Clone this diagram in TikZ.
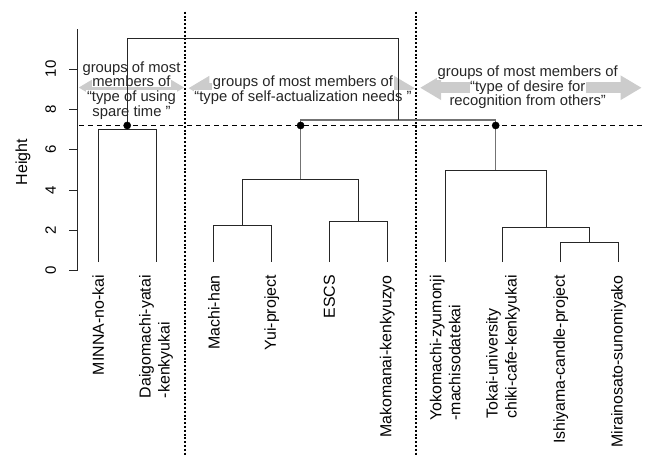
\documentclass[tikz,border=0pt]{standalone}
\usepackage{fontspec}
\setmainfont{Liberation Sans}
\usepackage{xcolor}
\usetikzlibrary{arrows.meta}

\begin{document}
\begin{tikzpicture}[x=57.8pt, y=20.17pt,
  branch/.style={line width=0.9pt, black!85},
  trunk/.style={line width=1.6pt, black!55},
  leaf/.style={rotate=90, anchor=east, align=left, inner sep=0pt, font=\fontsize{15.9}{19}\selectfont},
  ann/.style={anchor=base, fill=white, inner sep=0.6pt, text=black!85, font=\fontsize{14.8}{14.8}\selectfont},
  band/.style={line width=11pt, black!20, {Triangle[length=21pt,width=23pt]}-{Triangle[length=21pt,width=23pt]}},
  cutline/.style={line width=1pt, dash pattern=on 5pt off 4pt},
  splitline/.style={line width=2.1pt, dash pattern=on 2pt off 1.8pt},
  axisline/.style={line width=0.8pt, black!85}]
\useasboundingbox (-1.7007,-9.137) rectangle (9.562,13.421);

% draw some points
\node[coordinate] (L1) at (0,0.43) {};
\node[coordinate] (L2) at (1,0.43) {};
\node[coordinate] (L3) at (2,0.43) {};
\node[coordinate] (L4) at (3,0.43) {};
\node[coordinate] (L5) at (4,0.43) {};
\node[coordinate] (L6) at (5,0.43) {};
\node[coordinate] (L7) at (6,0.43) {};
\node[coordinate] (L8) at (7,0.43) {};
\node[coordinate] (L9) at (8,0.43) {};
\node[coordinate] (L10) at (9,0.43) {};

\node[coordinate] (m1) at (0.5,7.01) {};
\node[coordinate] (m2) at (2.5,2.23) {};
\node[coordinate] (m3) at (4.5,2.43) {};
\node[coordinate] (m4) at (3.5,4.53) {};
\node[coordinate] (m5) at (8.5,1.41) {};
\node[coordinate] (m6) at (7.75,2.13) {};
\node[coordinate] (m7) at (6.875,4.99) {};
\node[coordinate] (m8) at (5.1875,7.47) {};
\node[coordinate] (m9) at (2.84375,11.49) {};

\node[coordinate] (D1) at (0.5,7.2) {};
\node[coordinate] (D2) at (3.5,7.2) {};
\node[coordinate] (D3) at (6.875,7.2) {};
\node[coordinate] (cL) at (-0.334,7.2) {};
\node[coordinate] (cR) at (9.401,7.2) {};

\node[coordinate] (s1t) at (1.5,12.84) {};
\node[coordinate] (s1b) at (1.5,-9.137) {};
\node[coordinate] (s2t) at (5.5,12.84) {};
\node[coordinate] (s2b) at (5.5,-9.137) {};

\node[coordinate] (a1L) at (-0.344,9.08) {};
\node[coordinate] (a1R) at (1.49,9.08) {};
\node[coordinate] (a2L) at (1.557,9.05) {};
\node[coordinate] (a2R) at (5.479,9.05) {};
\node[coordinate] (a3L) at (5.566,9.07) {};
\node[coordinate] (a3R) at (9.401,9.07) {};

% draw the group arrows and their texts
\draw[band] (a1L) -- (a1R);
\draw[band] (a2L) -- (a2R);
\draw[band] (a3L) -- (a3R);

\node[ann] (g1a) at (0.574,9.836) {groups of most};
\node[ann] (g1b) at (0.574,9.123) {members of};
\node[ann] (g1c) at (0.574,8.379) {“type of using};
\node[ann] (g1d) at (0.574,7.635) {spare time ”};

\node[ann] (g2a) at (3.542,9.11) {groups of most members of};
\node[ann] (g2b) at (3.542,8.38) {“type of self-actualization needs ”};

\node[ann] (g3a) at (7.429,9.618) {groups of most members of};
\node[ann] (g3b) at (7.429,8.909) {“type of desire for};
\node[ann] (g3c) at (7.429,8.215) {recognition from others”};

% draw some lines
\draw[cutline] (cL) -- (cR);
\draw[splitline] (s1t) -- (s1b);
\draw[splitline] (s2t) -- (s2b);

\draw[branch] (L1) |- (m1) -| (L2);
\draw[branch] (L3) |- (m2) -| (L4);
\draw[branch] (L5) |- (m3) -| (L6);
\draw[branch] (m2) |- (m4) -| (m3);
\draw[branch] (L9) |- (m5) -| (L10);
\draw[branch] (L8) |- (m6) -| (m5);
\draw[branch] (L7) |- (m7) -| (m6);
\draw[trunk] (m4) |- (m8) -| (m7);
\draw[branch] (m1) |- (m9) -| (m8);

\draw[fill=black] (D1) circle (3.6pt);
\draw[fill=black] (D2) circle (3.6pt);
\draw[fill=black] (D3) circle (3.6pt);

% axis
\node[coordinate] (ax0) at (-0.356,0) {};
\node[coordinate] (ax1) at (-0.356,11.97) {};
\draw[axisline] (ax0) -- (ax1);
\foreach \h in {0,2,...,10} {
  \draw[axisline] (-0.356,\h) -- ++(-9pt,0);
  \node[rotate=90, font=\fontsize{15}{18}\selectfont] (tick\h) at (-0.823,\h) {\h};
}
\node[rotate=90, font=\fontsize{16}{19}\selectfont] (ylab) at (-1.303,5.39) {Height};

% leaf labels
\node[leaf] (n1) at (0,-0.213) {MINNA-no-kai};
\node[leaf] (n2) at (1,-0.213) {Daigomachi-yatai\\-kenkyukai};
\node[leaf] (n3) at (2,-0.213) {Machi-han};
\node[leaf] (n4) at (3,-0.213) {Yui-project};
\node[leaf] (n5) at (4,-0.213) {ESCS};
\node[leaf] (n6) at (5,-0.213) {Makomanai-kenkyuzyo};
\node[leaf] (n7) at (6,-0.213) {Yokomachi-zyumonji\\-machisodatekai};
\node[leaf] (n8) at (7,-0.213) {Tokai-university\\chiki-cafe-kenkyukai};
\node[leaf] (n9) at (8,-0.213) {Ishiyama-candle-project};
\node[leaf] (n10) at (9,-0.213) {Mirainosato-sunomiyako};

\end{tikzpicture}
\end{document}
